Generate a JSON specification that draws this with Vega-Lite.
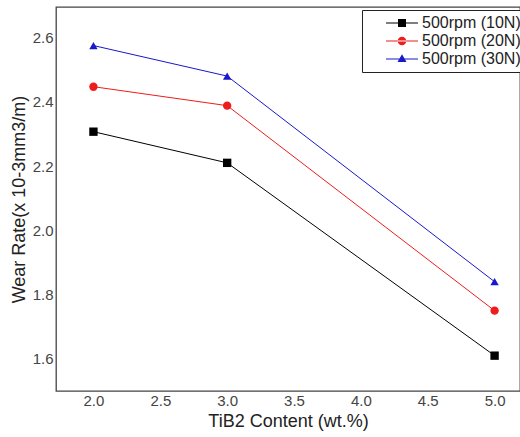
{
  "$schema": "https://vega.github.io/schema/vega-lite/v6.json",
  "width": 464,
  "height": 384,
  "autosize": "none",
  "padding": {"left": 56, "top": 7, "right": 0, "bottom": 46},
  "config": {
    "font": "Liberation Sans",
    "view": {"stroke": "#444", "strokeWidth": 1.3}
  },
  "datasets": {
    "main": [
      {"content": 2.0, "rate": 2.307, "series": "500rpm (10N)"},
      {"content": 3.0, "rate": 2.21, "series": "500rpm (10N)"},
      {"content": 5.0, "rate": 1.61, "series": "500rpm (10N)"},
      {"content": 2.0, "rate": 2.447, "series": "500rpm (20N)"},
      {"content": 3.0, "rate": 2.388, "series": "500rpm (20N)"},
      {"content": 5.0, "rate": 1.75, "series": "500rpm (20N)"},
      {"content": 2.0, "rate": 2.575, "series": "500rpm (30N)"},
      {"content": 3.0, "rate": 2.48, "series": "500rpm (30N)"},
      {"content": 5.0, "rate": 1.84, "series": "500rpm (30N)"}
    ],
    "legendrows": [
      {"content": 2.0, "rate": 2.0, "lg": "500rpm (10N)"},
      {"content": 2.0, "rate": 2.0, "lg": "500rpm (20N)"},
      {"content": 2.0, "rate": 2.0, "lg": "500rpm (30N)"}
    ]
  },
  "encoding": {
    "x": {
      "field": "content", "type": "quantitative",
      "scale": {"domain": [1.72, 5.19], "nice": false, "zero": false},
      "axis": {
        "values": [2.0, 2.5, 3.0, 3.5, 4.0, 4.5, 5.0], "format": ".1f",
        "ticks": false, "domain": false, "grid": false,
        "labelFontSize": 15, "labelColor": "#444", "labelPadding": 2,
        "title": "TiB2 Content (wt.%)", "titleFontSize": 18, "titleFontWeight": "normal",
        "titleColor": "#222", "titlePadding": 4
      }
    },
    "y": {
      "field": "rate", "type": "quantitative",
      "scale": {"domain": [1.5, 2.695], "nice": false, "zero": false},
      "axis": {
        "values": [1.6, 1.8, 2.0, 2.2, 2.4, 2.6], "format": ".1f",
        "ticks": false, "domain": false, "grid": false,
        "labelFontSize": 15, "labelColor": "#444", "labelPadding": 3,
        "title": "Wear Rate(x 10-3mm3/m)", "titleFontSize": 18, "titleFontWeight": "normal",
        "titleColor": "#222", "titlePadding": 4
      }
    }
  },
  "layer": [
    {
      "data": {"name": "main"},
      "mark": {"type": "line", "strokeWidth": 1},
      "encoding": {
        "color": {
          "field": "series", "type": "nominal",
          "scale": {"domain": ["500rpm (10N)", "500rpm (20N)", "500rpm (30N)"], "range": ["#000000", "#ee1c1c", "#1818cc"]},
          "legend": null
        }
      }
    },
    {
      "data": {"name": "main"},
      "mark": {"type": "point", "filled": true, "opacity": 1},
      "encoding": {
        "color": {
          "field": "series", "type": "nominal",
          "scale": {"domain": ["500rpm (10N)", "500rpm (20N)", "500rpm (30N)"], "range": ["#000000", "#ee1c1c", "#1818cc"]},
          "legend": null
        },
        "shape": {
          "field": "series", "type": "nominal",
          "scale": {"domain": ["500rpm (10N)", "500rpm (20N)", "500rpm (30N)"], "range": ["square", "circle", "triangle-up"]},
          "legend": null
        },
        "size": {"value": 70}
      }
    },
    {
      "data": {"name": "legendrows"},
      "mark": {"type": "point", "filled": true, "opacity": 0},
      "encoding": {
        "color": {
          "field": "lg", "type": "nominal",
          "scale": {"domain": ["500rpm (10N)", "500rpm (20N)", "500rpm (30N)"], "range": ["#000000", "#ee1c1c", "#1818cc"]},
          "legend": {
            "title": null,
            "orient": "none",
            "legendX": 306,
            "legendY": 3,
            "strokeColor": "#222",
            "fillColor": "white",
            "padding": 5,
            "symbolSize": 100,
            "symbolOpacity": 1,
            "symbolStrokeWidth": 0,
            "symbolOffset": 27,
            "labelFontSize": 16,
            "labelColor": "#222",
            "labelOffset": 12,
            "rowPadding": 2
          }
        },
        "shape": {
          "field": "lg", "type": "nominal",
          "scale": {
            "domain": ["500rpm (10N)", "500rpm (20N)", "500rpm (30N)"],
            "range": [
              "M-3.2,-0.1H3.2V0.1H-3.2ZM-0.8,-0.8H0.8V0.8H-0.8Z",
              "M-3.2,-0.1H3.2V0.1H-3.2ZM-0.85,0A0.85,0.85,0,1,0,0.85,0A0.85,0.85,0,1,0,-0.85,0Z",
              "M-3.2,-0.1H3.2V0.1H-3.2ZM0,-0.95L0.9,0.6H-0.9Z"
            ]
          },
          "legend": {
            "title": null,
            "orient": "none",
            "legendX": 306,
            "legendY": 3,
            "strokeColor": "#222",
            "fillColor": "white",
            "padding": 5,
            "symbolSize": 100,
            "symbolOpacity": 1,
            "symbolStrokeWidth": 0,
            "symbolOffset": 27,
            "labelFontSize": 16,
            "labelColor": "#222",
            "labelOffset": 12,
            "rowPadding": 2
          }
        },
        "size": {"value": 100}
      }
    }
  ],
  "resolve": {"scale": {"shape": "independent", "color": "independent"}}
}
